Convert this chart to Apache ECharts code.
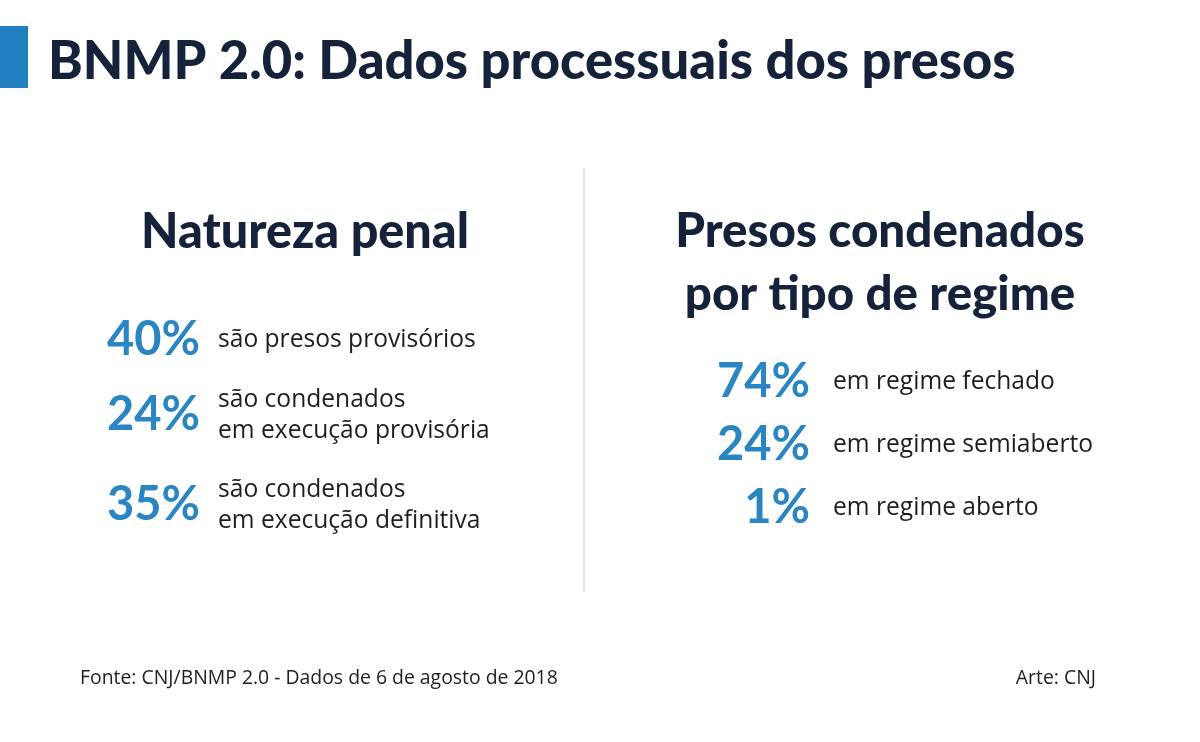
<!DOCTYPE html>
<html><head><meta charset="utf-8">
<script src="https://cdn.jsdelivr.net/npm/echarts@6/dist/echarts.min.js"></script>
<style>html,body{margin:0;padding:0;background:#fff}#c{width:1200px;height:742px}</style>
</head><body><div id="c"></div>
<script>
const title = 'BNMP 2.0: Dados processuais dos presos';
const leftHeading = ['Natureza penal'];
const leftValues = [40, 24, 35];
const leftLabels = [['são presos provisórios'], ['são condenados', 'em execução provisória'], ['são condenados', 'em execução definitiva']];
const rightHeading = ['Presos condenados', 'por tipo de regime'];
const rightValues = [74, 24, 1];
const rightLabels = [['em regime fechado'], ['em regime semiaberto'], ['em regime aberto']];
const source = 'Fonte: CNJ/BNMP 2.0 - Dados de 6 de agosto de 2018';
const credit = 'Arte: CNJ';

const NAVY = '#16223a', BLUE = '#2a86c2';
const HFONT = 'Lato', BFONT = '"Open Sans"';
const els = [];
els.push({type:'rect', shape:{x:0,y:26,width:28,height:62}, style:{fill:'#1f7fc0'}});
els.push({type:'text', x:48, y:62, style:{text:title, fill:NAVY, font:'900 52.5px '+HFONT, textVerticalAlign:'middle'}});
els.push({type:'line', shape:{x1:584,y1:168,x2:584,y2:592}, style:{stroke:'#d8d8d8', lineWidth:1.5}});
leftHeading.forEach((t,i)=>els.push({type:'text', x:305, y:232+i*63, style:{text:t, fill:NAVY, font:'900 48.5px '+HFONT, textAlign:'center', textVerticalAlign:'middle'}}));
rightHeading.forEach((t,i)=>els.push({type:'text', x:880, y:232+i*63, style:{text:t, fill:NAVY, font:'900 47.5px '+HFONT, textAlign:'center', textVerticalAlign:'middle'}}));
const leftY = [340, 415, 505];
leftValues.forEach((v,i)=>{
  els.push({type:'text', x:200, y:leftY[i], style:{text:v+'%', fill:BLUE, font:'bold 47px '+HFONT, textAlign:'right', textVerticalAlign:'middle'}});
  const n = leftLabels[i].length;
  leftLabels[i].forEach((t,j)=>els.push({type:'text', x:218, y:leftY[i]+(j-(n-1)/2)*31, style:{text:t, fill:'#1e1e1e', font:'24.6px '+BFONT, textVerticalAlign:'middle'}}));
});
const rightY = [382, 445, 508];
rightValues.forEach((v,i)=>{
  els.push({type:'text', x:810, y:rightY[i], style:{text:v+'%', fill:BLUE, font:'bold 47px '+HFONT, textAlign:'right', textVerticalAlign:'middle'}});
  rightLabels[i].forEach((t,j)=>els.push({type:'text', x:833, y:rightY[i], style:{text:t, fill:'#1e1e1e', font:'24.6px '+BFONT, textVerticalAlign:'middle'}}));
});
els.push({type:'text', x:80, y:678, style:{text:source, fill:'#1e1e1e', font:'19.4px '+BFONT, textVerticalAlign:'middle'}});
els.push({type:'text', x:1096, y:678, style:{text:credit, fill:'#1e1e1e', font:'19.4px '+BFONT, textAlign:'right', textVerticalAlign:'middle'}});

const chart = echarts.init(document.getElementById('c'));
chart.setOption({backgroundColor:'#fff', animation:false, graphic:els});
</script></body></html>
